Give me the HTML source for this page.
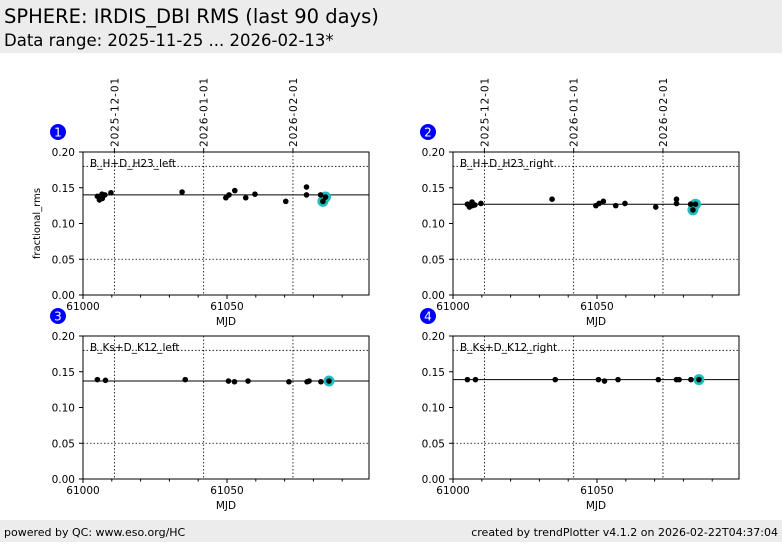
<!DOCTYPE html>
<html><head><meta charset="utf-8">
<style>
body{margin:0;background:#fff;width:782px;height:542px;overflow:hidden;font-family:"Liberation Sans","DejaVu Sans",sans-serif;}
svg text{font-family:"DejaVu Sans","Liberation Sans",sans-serif;}
</style></head>
<body>
<svg id="s" width="782" height="542" xmlns="http://www.w3.org/2000/svg">
<rect x="0" y="0" width="782" height="53" fill="#ececec"/>
<text x="4" y="23" font-size="19.5" fill="#000">SPHERE: IRDIS_DBI RMS (last 90 days)</text>
<text x="4" y="46" font-size="16.5" fill="#000">Data range: 2025-11-25 ... 2026-02-13*</text>
<rect x="0" y="520" width="782" height="22" fill="#ececec"/>
<text x="4" y="536" font-size="11">powered by QC: www.eso.org/HC</text>
<text x="778" y="536" font-size="11" text-anchor="end">created by trendPlotter v4.1.2 on 2026-02-22T04:37:04</text>
</svg>
<script>
const NS="http://www.w3.org/2000/svg";
const svg=document.getElementById('s');
const panelTitles=["B_H+D_H23_left","B_H+D_H23_right","B_Ks+D_K12_left","B_Ks+D_K12_right"];
const refValues=[0.140,0.127,0.137,0.139];
const mjd1=[61005.0,61005.7,61006.6,61006.7,61007.6,61009.7,61034.4,61049.6,61050.7,61052.7,61056.5,61059.7,61070.4,61077.6,61077.6,61082.5,61083.3,61084.2];
const val1=[0.138,0.133,0.141,0.135,0.140,0.143,0.144,0.136,0.140,0.146,0.136,0.141,0.131,0.151,0.140,0.140,0.131,0.137];
const hi1=[16,17];
const mjd2=[61005.0,61005.7,61006.6,61006.7,61007.6,61009.7,61034.4,61049.6,61050.7,61052.2,61056.5,61059.7,61070.4,61077.6,61077.6,61082.5,61083.3,61084.2];
const val2=[0.127,0.123,0.130,0.125,0.126,0.128,0.134,0.125,0.128,0.131,0.125,0.128,0.123,0.134,0.128,0.127,0.119,0.127];
const hi2=[16,17];
const mjd3=[61005.0,61007.8,61035.5,61050.5,61052.6,61057.3,61071.5,61077.8,61078.5,61082.6,61085.4];
const val3=[0.139,0.138,0.139,0.137,0.136,0.137,0.136,0.136,0.137,0.136,0.137];
const hi3=[10];
const mjd4=[61005.0,61007.8,61035.5,61050.5,61052.6,61057.3,61071.3,61077.6,61078.5,61082.6,61085.4];
const val4=[0.139,0.139,0.139,0.139,0.137,0.139,0.139,0.139,0.139,0.139,0.139];
const hi4=[10];
const yTicks=[0.00,0.05,0.10,0.15,0.20];
const yTickLabels=["0.00","0.05","0.10","0.15","0.20"];
const xTicks=[61000,61050];
const dateMjd=[61010.9,61041.9,61072.9];
const dateLabels=["2025-12-01","2026-01-01","2026-02-01"];
const series=[[mjd1,val1,hi1],[mjd2,val2,hi2],[mjd3,val3,hi3],[mjd4,val4,hi4]];
const XMIN=61000,XMAX=61099.3,YMIN=0,YMAX=0.2;
const panels=[{x:83,y:152},{x:453,y:152},{x:83,y:336},{x:453,y:336}];
const W=286,H=143;
function el(t,a,p){const e=document.createElementNS(NS,t);for(const k in a)e.setAttribute(k,a[k]);(p||svg).appendChild(e);return e;}
panels.forEach((P,i)=>{
  const g=el('g',{});
  
  
  const sx=v=>P.x+(v-XMIN)/(XMAX-XMIN)*W;
  const sy=v=>P.y+H-(v-YMIN)/(YMAX-YMIN)*H;
  const b=el('circle',{cx:P.x-25,cy:P.y-20,r:8,fill:'#0000ff'},g);
  
  
  const bt=el('text',{x:P.x-25,y:P.y-15.5,'font-size':12,fill:'#fff','text-anchor':'middle'},g);bt.textContent=String(i+1);
  [0.05,0.18].forEach(v=>{el('line',{x1:P.x,x2:P.x+W,y1:sy(v),y2:sy(v),stroke:'#000','stroke-width':0.8,'stroke-dasharray':'1.5,2'},g);});
  dateMjd.forEach((m,k)=>{
    el('line',{x1:sx(m),x2:sx(m),y1:P.y,y2:P.y+H,stroke:'#000','stroke-width':0.8,'stroke-dasharray':'1.5,2'},g);
    if(i<2){
      const t=el('text',{x:0,y:0,'font-size':10.5,'letter-spacing':'0.9',transform:`translate(${sx(m)+4},${P.y-5}) rotate(-90)`},g);
      
      
      t.textContent=dateLabels[k];
      el('line',{x1:sx(m),x2:sx(m),y1:P.y,y2:P.y-4,stroke:'#000'},g);
    }
  });
  const rl=el('line',{x1:P.x,x2:P.x+W,y1:sy(refValues[i]),y2:sy(refValues[i]),stroke:'#000','stroke-width':1},g);
  
  
  el('rect',{x:P.x,y:P.y,width:W,height:H,fill:'none',stroke:'#000','stroke-width':1},g);
  yTicks.forEach((v,k)=>{
    el('line',{x1:P.x-4,x2:P.x,y1:sy(v),y2:sy(v),stroke:'#000'},g);
    const t=el('text',{x:P.x-8,y:sy(v)+4,'font-size':10.5,'text-anchor':'end'},g);
    
    
    t.textContent=yTickLabels[k];
  });
  for(let m=61000;m<XMAX;m+=10){el('line',{x1:sx(m),x2:sx(m),y1:P.y+H,y2:P.y+H+(m%50===0?4:2.5),stroke:'#000'},g);}
  xTicks.forEach(m=>{
    const t=el('text',{x:sx(m),y:P.y+H+15,'font-size':10.5,'text-anchor':'middle'},g);
    
    
    t.textContent=String(m);
  });
  const xl=el('text',{x:P.x+W/2,y:P.y+H+30,'font-size':10.5,'text-anchor':'middle'},g);
  
  
  xl.textContent='MJD';
  if(i===0){
    const yl=el('text',{x:0,y:0,'font-size':10,'text-anchor':'middle',transform:`translate(${P.x-43},${P.y+H/2}) rotate(-90)`},g);
    
    
    yl.textContent='fractional_rms';
  }
  const pt=el('text',{x:P.x+7,y:P.y+15,'font-size':10.5},g);
  
  
  pt.textContent=panelTitles[i];
  const [ms,vs,hs]=series[i];
  hs.forEach(j=>{
    const c=el('circle',{cx:sx(ms[j]),cy:sy(vs[j]),r:5.5,fill:'#1fbdbd'},g);
    
    
  });
  ms.forEach((m,j)=>{
    const c=el('circle',{cx:sx(m),cy:sy(vs[j]),r:2.8,fill:'#000'},g);
    
    
  });
});
</script>
</body></html>
